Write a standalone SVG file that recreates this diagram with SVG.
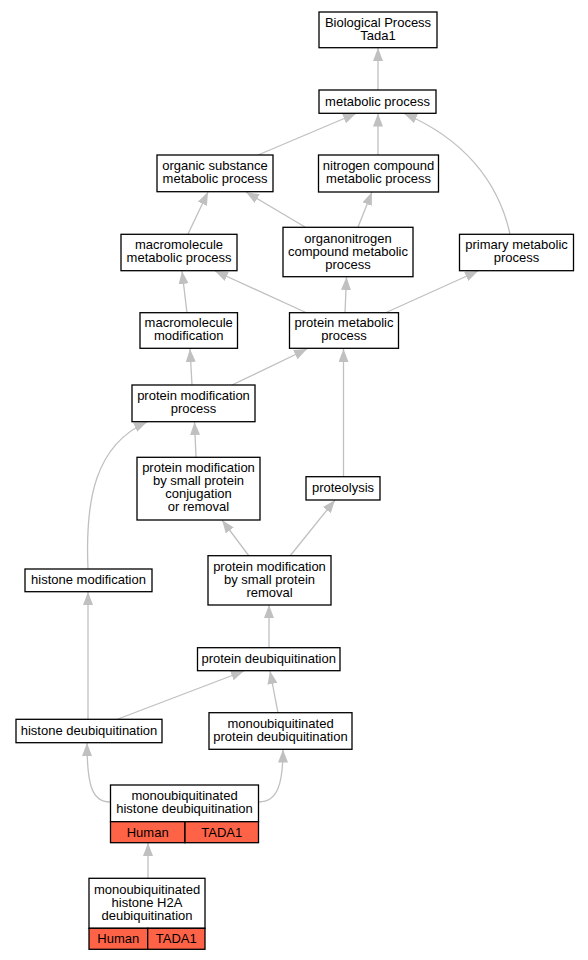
<svg xmlns="http://www.w3.org/2000/svg" width="588" height="960" viewBox="0 0 588 960">
<style>
.n rect{fill:#fff;stroke:#000;stroke-width:1.3}
.n rect.r{fill:#ff6347}
text{font-family:"Liberation Sans",Arial,sans-serif;font-size:13px;fill:#000;text-anchor:middle}
.e path{fill:none;stroke:#c0c0c0;stroke-width:1.3;marker-end:url(#a)}
</style>
<defs>
<marker id="a" markerUnits="userSpaceOnUse" markerWidth="14" markerHeight="11" refX="13" refY="5" orient="auto">
<path d="M0,0 L13,5 L0,10 z" fill="#c0c0c0"/>
</marker>
</defs>
<rect width="588" height="960" fill="#fff"/>
<g class="e" id="edges">
<path d="M378,90 L378,48"/>
<path d="M258,155 L356,113.5"/>
<path d="M378,155 L378,113.5"/>
<path d="M510,234 C498,180 462,138 404,113.5"/>
<path d="M188,234 L208,192"/>
<path d="M305,227 L246,192"/>
<path d="M358,227 L372,192"/>
<path d="M187,313 L182,271"/>
<path d="M307,313 L215,271"/>
<path d="M345,313 L346.5,277"/>
<path d="M385,313 L478,271"/>
<path d="M192,385 L190,349"/>
<path d="M232,385 L307,349"/>
<path d="M343.5,477 L343.5,349"/>
<path d="M88,569 C85,500 95,445 147,422"/>
<path d="M196,457 L194.5,422"/>
<path d="M249,556 L222,520"/>
<path d="M290,556 L335,500"/>
<path d="M269,648 L269,605"/>
<path d="M88,719 L88,592"/>
<path d="M118,719 L244,671"/>
<path d="M278,713 L270,671"/>
<path d="M110,802 C92,802 87,785 87,743"/>
<path d="M259,802 C277,802 283,785 283,749.5"/>
<path d="M148,878 L148,843"/>
</g>
<g class="n" id="n_bp"><rect x="319" y="12" width="118" height="35.7"/><text x="378" y="26.5">Biological Process<tspan x="378" dy="13">Tada1</tspan></text></g>
<g class="n" id="n_metabolic"><rect x="319" y="90" width="117" height="23.3"/><text x="377.5" y="105.5">metabolic process</text></g>
<g class="n" id="n_organic"><rect x="157" y="155" width="116" height="36.7"/><text x="215" y="170">organic substance<tspan x="215" dy="13">metabolic process</tspan></text></g>
<g class="n" id="n_nitrogen"><rect x="318.5" y="155" width="120" height="37"/><text x="378.5" y="170">nitrogen compound<tspan x="378.5" dy="13">metabolic process</tspan></text></g>
<g class="n" id="n_macrometab"><rect x="121" y="234.3" width="116" height="36.4"/><text x="179" y="249">macromolecule<tspan x="179" dy="13">metabolic process</tspan></text></g>
<g class="n" id="n_organonitrogen"><rect x="283" y="227.3" width="130" height="49.4"/><text x="348" y="242.5">organonitrogen<tspan x="348" dy="13">compound metabolic</tspan><tspan x="348" dy="13">process</tspan></text></g>
<g class="n" id="n_primary"><rect x="459.5" y="234.3" width="114" height="36.4"/><text x="516.5" y="249">primary metabolic<tspan x="516.5" dy="13">process</tspan></text></g>
<g class="n" id="n_macromod"><rect x="140" y="312.7" width="97.5" height="35.6"/><text x="188.7" y="327">macromolecule<tspan x="188.7" dy="13">modification</tspan></text></g>
<g class="n" id="n_protmetab"><rect x="289.5" y="312.7" width="109" height="35.6"/><text x="344" y="327">protein metabolic<tspan x="344" dy="13">process</tspan></text></g>
<g class="n" id="n_protmod"><rect x="132" y="385" width="123" height="36.7"/><text x="193.5" y="400">protein modification<tspan x="193.5" dy="13">process</tspan></text></g>
<g class="n" id="n_conj"><rect x="137" y="457.3" width="123" height="62.7"/><text x="198.5" y="471.5">protein modification<tspan x="198.5" dy="13.3">by small protein</tspan><tspan x="198.5" dy="13.3">conjugation</tspan><tspan x="198.5" dy="13.3">or removal</tspan></text></g>
<g class="n" id="n_proteolysis"><rect x="306" y="476.7" width="74" height="23.3"/><text x="343" y="492">proteolysis</text></g>
<g class="n" id="n_histmod"><rect x="25" y="569" width="127" height="22.7"/><text x="88.5" y="584">histone modification</text></g>
<g class="n" id="n_removal"><rect x="208" y="555.7" width="123" height="49.3"/><text x="269.5" y="571">protein modification<tspan x="269.5" dy="13">by small protein</tspan><tspan x="269.5" dy="13">removal</tspan></text></g>
<g class="n" id="n_protdeub"><rect x="197.5" y="647.7" width="142.5" height="23"/><text x="268.7" y="663">protein deubiquitination</text></g>
<g class="n" id="n_histdeub"><rect x="16" y="719.3" width="146" height="23.4"/><text x="89" y="735">histone deubiquitination</text></g>
<g class="n" id="n_monoprot"><rect x="209" y="712.7" width="143" height="36.6"/><text x="280.5" y="727.5">monoubiquitinated<tspan x="280.5" dy="13">protein deubiquitination</tspan></text></g>
<g class="n" id="n_monohist"><rect x="110.5" y="785" width="148" height="36.7"/><rect class="r" x="110.5" y="821.7" width="74.5" height="21"/><rect class="r" x="185" y="821.7" width="73.5" height="21"/><text x="184.5" y="800">monoubiquitinated<tspan x="184.5" dy="13">histone deubiquitination</tspan></text><text x="147.7" y="836.5">Human</text><text x="221.8" y="836.5">TADA1</text></g>
<g class="n" id="n_h2a"><rect x="89" y="878.3" width="116" height="50"/><rect class="r" x="89" y="928.3" width="58.7" height="21"/><rect class="r" x="147.7" y="928.3" width="57.3" height="21"/><text x="147" y="894">monoubiquitinated<tspan x="147" dy="13">histone H2A</tspan><tspan x="147" dy="13">deubiquitination</tspan></text><text x="118.3" y="943">Human</text><text x="176.3" y="943">TADA1</text></g>
</svg>
